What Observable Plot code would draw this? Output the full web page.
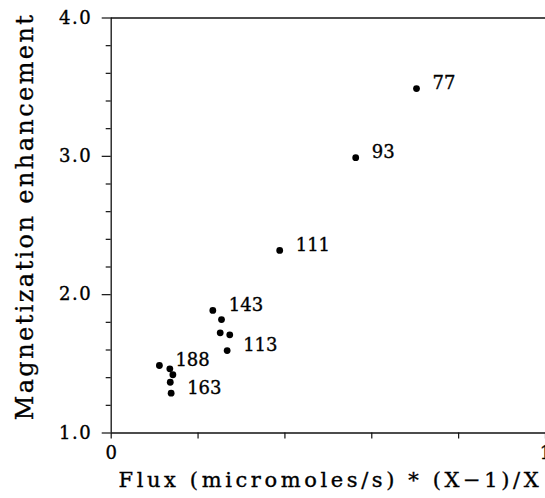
<!DOCTYPE html>
<html>
<head>
<meta charset="utf-8">
<script src="https://cdn.jsdelivr.net/npm/d3@7"></script>
<script src="https://cdn.jsdelivr.net/npm/@observablehq/plot@0.6"></script>
<style>
  html, body { margin: 0; padding: 0; background: #fff; }
  #chart svg { display: block; }
  #chart svg text { stroke: #000; stroke-width: 0.35px; }
</style>
</head>
<body>
<div id="chart"></div>
<script>
// Data
const fluxValues = [0.703, 0.563, 0.388, 0.234, 0.254, 0.251, 0.273, 0.267, 0.111, 0.135, 0.142, 0.136, 0.138];
const enhancementValues = [3.49, 2.99, 2.32, 1.886, 1.82, 1.724, 1.71, 1.596, 1.488, 1.464, 1.421, 1.367, 1.288];
const pointLabels = ["77", "93", "111", "143", "", "", "", "113", "188", "", "", "", "163"];

const xTicks = [0, 0.2, 0.4, 0.6, 0.8, 1];
const xTickLabels = ["0", "", "", "", "", "1"];
const yMajorTicks = [1, 2, 3, 4];
const yMinorTicks = [1.2, 1.4, 1.6, 1.8, 2.2, 2.4, 2.6, 2.8, 3.2, 3.4, 3.6, 3.8];

const xTitle = "Flux (micromoles/s) * (X\u22121)/X";
const yTitle = "Magnetization enhancement";

const data = fluxValues.map((x, i) => ({x, y: enhancementValues[i], label: pointLabels[i]}));
const yTickText = yMajorTicks.map(d3.format(".1f"));

const chart = Plot.plot({
  width: 545,
  height: 498,
  marginLeft: 110.7,
  marginRight: 0,
  marginTop: 17.5,
  marginBottom: 65.5,
  style: {fontFamily: "DejaVu Serif", fontSize: "18px", color: "#000", background: "#fff"},
  x: {domain: [0, 1]},
  y: {domain: [1, 4]},
  marks: [
    Plot.axisX({ticks: xTicks, tickSize: 6, tickPadding: 7, tickFormat: (d, i) => xTickLabels[i], stroke: "#111", strokeWidth: 1.2, label: null, fontSize: 18}),
    Plot.axisY({ticks: yMinorTicks, tickSize: 5, tickFormat: () => "", stroke: "#111", strokeWidth: 1.2, label: null}),
    Plot.axisY({ticks: yMajorTicks, tickSize: 9, tickPadding: 10, tickFormat: d3.format(".1f"), stroke: "#111", strokeWidth: 1.2, label: null, fontSize: 18}),
    Plot.ruleX([0], {y1: 1, y2: 4, stroke: "#111", strokeWidth: 1.3}),
    Plot.ruleY([1], {x1: 0, x2: 1, stroke: "#111", strokeWidth: 1.3}),
    Plot.ruleY([4], {x1: 0, x2: 1, stroke: "#111", strokeWidth: 1.3}),
    Plot.dot(data, {x: "x", y: "y", r: 3.4, fill: "#000", stroke: "none"}),
    Plot.text(data, {x: "x", y: "y", text: "label", dx: 16, dy: -5, textAnchor: "start", fontSize: 18, fill: "#000"}),
    Plot.text([xTitle], {frameAnchor: "bottom", textAnchor: "middle", lineAnchor: "middle", dx: 2, dy: 47, fontSize: 21, fill: "#000"}),
    Plot.text([yTitle], {frameAnchor: "left", textAnchor: "middle", lineAnchor: "middle", dx: -86, dy: -9, rotate: -90, fontSize: 24, fill: "#000"})
  ]
});

d3.select(chart).selectAll("text").each(function() {
  const t = this.textContent;
  if (t === xTitle) this.style.letterSpacing = "3.6px";
  else if (t === yTitle) this.style.letterSpacing = "2.4px";
  else if (yTickText.includes(t)) this.style.letterSpacing = "1.5px";
});
document.getElementById("chart").appendChild(chart);
</script>
</body>
</html>
